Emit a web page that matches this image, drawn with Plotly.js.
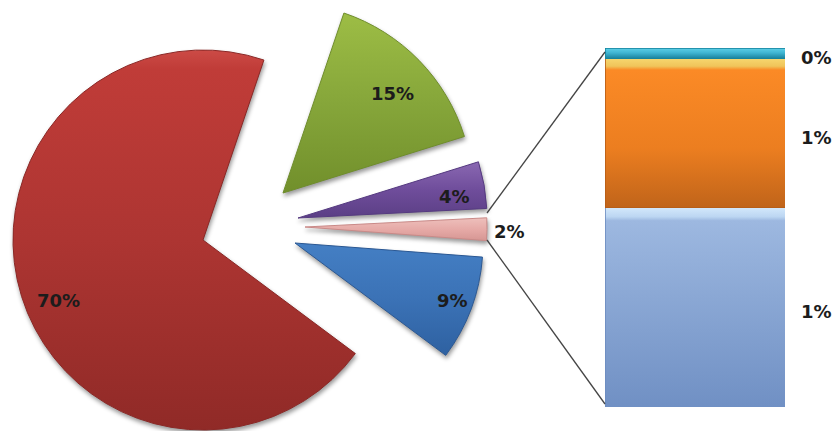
<!DOCTYPE html>
<html>
<head>
<meta charset="utf-8">
<script src="https://cdn.plot.ly/plotly-3.0.1.min.js"></script>
<style>html,body{margin:0;padding:0;background:#fff}#chart{width:835px;height:431px}</style>
</head>
<body>
<div id="chart"></div>
<script>
// --- data ---
var pieCategories = ['Green', 'Purple', 'Pink', 'Blue', 'Red'];
var pieValues = [15, 4, 2, 9, 70];
var pieLabels = ['15%', '4%', '2%', '9%', '70%'];
var barCategories = ['Light blue', 'Orange', 'Cyan'];
var barValues = [1.11, 0.83, 0.06];
var barLabels = ['1%', '1%', '0%'];

// --- style / layout ---
var W = 835, H = 431;
var startAngle = 18.7;
var sliceCentres = [[283, 193], [298, 218], [305, 227], [295, 243], [203, 240]];
var sliceRadii = [190, 189, 182, 188, 190];
var labelPos = [[392, 93], [454, 196], [509, 231], [452, 300], [59, 300]];
var pieGrad = [
  [[0, '#9dbd45'], [0.5, '#86a63a'], [1, '#718f2b']],
  [[0, '#8a68b2'], [0.5, '#6f4d9b'], [1, '#5b3f85']],
  [[0, '#eec0bc'], [0.5, '#e6aaa7'], [1, '#d69693']],
  [[0, '#447fc4'], [0.5, '#3b72b6'], [1, '#2e61a1']],
  [[0, '#cc4b46'], [0.05, '#c03c38'], [0.5, '#ad3532'], [1, '#902a27']]
];
var pieStroke = ['#6f8d2c', '#553a80', '#c98a88', '#2b5893', '#8a2826'];
var barGrad = [
  [[0, '#d3e8fb'], [0.045, '#bcd6f2'], [0.065, '#9db8e0'], [1, '#7090c4']],
  [[0, '#f6d66e'], [0.05, '#f0c45a'], [0.075, '#fb8a26'], [0.6, '#ec7e20'], [1, '#c0641a']],
  [[0, '#5ed0e8'], [0.45, '#3fb5d2'], [1, '#177f9a']]
];
var barStroke = ['#6d8cbf', '#b55c17', '#17849f'];

function px(x) { return x / W; }
function py(y) { return 1 - y / H; }

var traces = pieValues.map(function (v, i) {
  var c = sliceCentres[i], r = sliceRadii[i];
  return {
    type: 'pie',
    labels: pieCategories,
    values: pieValues,
    sort: false,
    direction: 'clockwise',
    rotation: startAngle,
    textinfo: 'none',
    hoverinfo: 'skip',
    showlegend: false,
    domain: {
      x: [Math.max(0, px(c[0] - r)), Math.min(1, px(c[0] + r))],
      y: [Math.max(0, py(c[1] + r)), Math.min(1, py(c[1] - r))]
    },
    marker: {
      colors: pieValues.map(function (_, j) { return j === i ? pieGrad[i][1][1] : 'rgba(0,0,0,0)'; }),
      line: { width: 0, color: 'rgba(0,0,0,0)' }
    }
  };
});

barValues.forEach(function (v, i) {
  traces.push({
    type: 'bar',
    x: ['Other'],
    y: [v],
    name: barCategories[i],
    xaxis: 'x',
    yaxis: 'y',
    showlegend: false,
    hoverinfo: 'skip',
    marker: { color: barGrad[i][2][1], line: { width: 0.8, color: barStroke[i] } }
  });
});

var annotations = pieLabels.map(function (t, i) {
  return {
    text: t, xref: 'paper', yref: 'paper',
    x: px(labelPos[i][0]), y: py(labelPos[i][1]),
    xanchor: 'center', yanchor: 'middle', showarrow: false
  };
});
var cum = 0;
barValues.forEach(function (v, i) {
  annotations.push({
    text: barLabels[i], xref: 'paper', yref: 'y',
    x: px(816), y: cum + v / 2, yshift: -4,
    xanchor: 'center', yanchor: 'middle', showarrow: false
  });
  cum += v;
});

var connectorStyle = { color: '#454545', width: 1.3 };
var layout = {
  width: W, height: H,
  margin: { l: 0, r: 0, t: 0, b: 0 },
  paper_bgcolor: '#fff', plot_bgcolor: 'rgba(0,0,0,0)',
  barmode: 'stack', bargap: 0,
  font: { family: '"DejaVu Sans", sans-serif', size: 18, color: '#1c1c1c', weight: 700 },
  xaxis: { domain: [px(605), px(785)], visible: false, type: 'category', range: [-0.5, 0.5], fixedrange: true },
  yaxis: { domain: [py(407), py(48)], visible: false, range: [0, 2], fixedrange: true },
  annotations: annotations,
  shapes: [
    { type: 'line', xref: 'paper', yref: 'paper', x0: px(487), y0: py(213), x1: px(605), y1: py(52), line: connectorStyle },
    { type: 'line', xref: 'paper', yref: 'paper', x0: px(487), y0: py(240), x1: px(605), y1: py(404), line: connectorStyle }
  ]
};

Plotly.newPlot('chart', traces, layout, { displayModeBar: false, staticPlot: true }).then(function () {
  var svg = document.querySelector('#chart .main-svg');
  var defs = svg.querySelector('defs');
  var NS = 'http://www.w3.org/2000/svg';
  function makeGrad(id, stops) {
    var g = document.createElementNS(NS, 'linearGradient');
    g.setAttribute('id', id);
    g.setAttribute('x1', '0'); g.setAttribute('y1', '0');
    g.setAttribute('x2', '0'); g.setAttribute('y2', '1');
    stops.forEach(function (s) {
      var st = document.createElementNS(NS, 'stop');
      st.setAttribute('offset', s[0]);
      st.setAttribute('stop-color', s[1]);
      g.appendChild(st);
    });
    defs.appendChild(g);
  }
  var pies = document.querySelectorAll('#chart .pielayer .trace');
  pies.forEach(function (tr, i) {
    makeGrad('pg' + i, pieGrad[i]);
    var paths = tr.querySelectorAll('.slice path.surface');
    var p = paths[i];
    if (!p) return;
    p.style.fill = 'url(#pg' + i + ')';
    p.style.stroke = pieStroke[i];
    p.style.strokeWidth = '1px';
    p.style.strokeOpacity = '1';
    p.style.filter = 'drop-shadow(1px 3px 2px rgba(0,0,0,0.4))';
    for (var j = 0; j < paths.length; j++) if (j !== i) paths[j].style.display = 'none';
  });
  var bars = document.querySelectorAll('#chart .barlayer .point path');
  bars.forEach(function (b, i) {
    makeGrad('bg' + i, barGrad[i]);
    b.style.fill = 'url(#bg' + i + ')';
    if (i === 0) b.style.filter = 'drop-shadow(1px 3px 2px rgba(0,0,0,0.3))';
  });
});
</script>
</body>
</html>
